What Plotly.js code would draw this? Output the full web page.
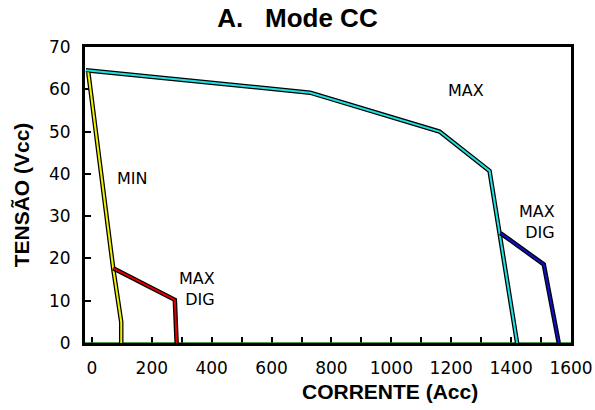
<!DOCTYPE html>
<html>
<head>
<meta charset="utf-8">
<script src="https://cdn.plot.ly/plotly-3.0.1.min.js"></script>
<style>html,body{margin:0;padding:0;background:#fff;}#chart{width:595px;height:410px;}</style>
</head>
<body>
<div id="chart"></div>
<script>
// Data
const maxX = [-20, 729, 1161, 1328, 1420];
const maxY = [64.5, 59.2, 50, 40.7, 0];
const minX = [-12, 71, 98, 98];
const minY = [64, 17.7, 5, 0];
const maxDigLowX = [71, 277, 283];
const maxDigLowY = [17.7, 10.2, 0];
const maxDigHighX = [1364, 1509, 1559];
const maxDigHighY = [26, 18.6, 0];
const baseX = [-23, 1600];
const baseY = [0, 0];
const xTickVals = [0, 200, 400, 600, 800, 1000, 1200, 1400, 1600];
const yTickVals = [0, 10, 20, 30, 40, 50, 60, 70];

function outlined(x, y, color) {
  return [
    {x: x, y: y, type: 'scatter', mode: 'lines', line: {color: '#000', width: 4.5}, hoverinfo: 'skip'},
    {x: x, y: y, type: 'scatter', mode: 'lines', line: {color: color, width: 2}, hoverinfo: 'skip'}
  ];
}

const traces = [].concat(
  [{x: baseX, y: baseY, type: 'scatter', mode: 'lines', line: {color: '#1f7a1f', width: 1.5}, hoverinfo: 'skip'}],
  outlined(maxX, maxY, '#22e0e0'),
  outlined(minX, minY, '#f2f000'),
  outlined(maxDigLowX, maxDigLowY, '#e00000'),
  outlined(maxDigHighX, maxDigHighY, '#1010cc')
);

const labelFont = {family: 'DejaVu Sans', size: 16, color: '#000'};
const layout = {
  width: 595, height: 410,
  margin: {l: 85, r: 24, t: 47, b: 67},
  paper_bgcolor: '#fff', plot_bgcolor: '#fff',
  showlegend: false, hovermode: false,
  title: {text: 'A.\u00A0\u00A0\u00A0Mode CC', font: {family: 'Liberation Sans', size: 26, color: '#000', weight: 'bold'},
          x: 0.5, xanchor: 'center', y: 1 - 18/410, yanchor: 'middle', yref: 'container'},
  xaxis: {
    range: [-23, 1600], tickvals: xTickVals, ticktext: xTickVals.map(String),
    ticks: 'inside', ticklen: 6, tickwidth: 2, tickcolor: '#000',
    minor: {dtick: 100, tick0: 0, ticks: 'inside', ticklen: 6, tickwidth: 2, tickcolor: '#000', showgrid: false},
    showline: true, linewidth: 3, linecolor: '#000', mirror: true,
    showgrid: false, zeroline: false, layer: 'below traces',
    tickfont: {family: 'DejaVu Sans', size: 17, color: '#000'}, ticklabelstandoff: 8
  },
  yaxis: {
    range: [0, 70], tickvals: yTickVals, ticktext: yTickVals.map(String),
    ticks: 'inside', ticklen: 6, tickwidth: 2, tickcolor: '#000',
    showline: true, linewidth: 3, linecolor: '#000', mirror: true,
    showgrid: false, zeroline: false, layer: 'below traces',
    tickfont: {family: 'DejaVu Sans', size: 17, color: '#000'}, ticklabelstandoff: 8,
    title: {text: 'TENSÃO (Vcc)', font: {family: 'Liberation Sans', size: 21, color: '#000', weight: 'bold'}, standoff: 14}
  },
  annotations: [
    {xref: 'paper', yref: 'paper', x: (390-85)/486, y: (343-391)/296, text: 'CORRENTE (Acc)', showarrow: false,
     xanchor: 'center', yanchor: 'middle', font: {family: 'Liberation Sans', size: 21, color: '#000', weight: 'bold'}},
    {xref: 'x', yref: 'y', x: 1249, y: 59.8, text: 'MAX', showarrow: false, xanchor: 'center', yanchor: 'middle', font: labelFont},
    {xref: 'x', yref: 'y', x: 134, y: 38.8, text: 'MIN', showarrow: false, xanchor: 'center', yanchor: 'middle', font: labelFont},
    {xref: 'x', yref: 'y', x: 417, y: 12.8, text: 'MAX<br>DIG', align: 'right', showarrow: false, xanchor: 'right', yanchor: 'middle', font: labelFont},
    {xref: 'x', yref: 'y', x: 1554, y: 28.5, text: 'MAX<br>DIG', align: 'right', showarrow: false, xanchor: 'right', yanchor: 'middle', font: labelFont}
  ]
};

Plotly.newPlot('chart', traces, layout, {staticPlot: true, displayModeBar: false});
</script>
</body>
</html>
